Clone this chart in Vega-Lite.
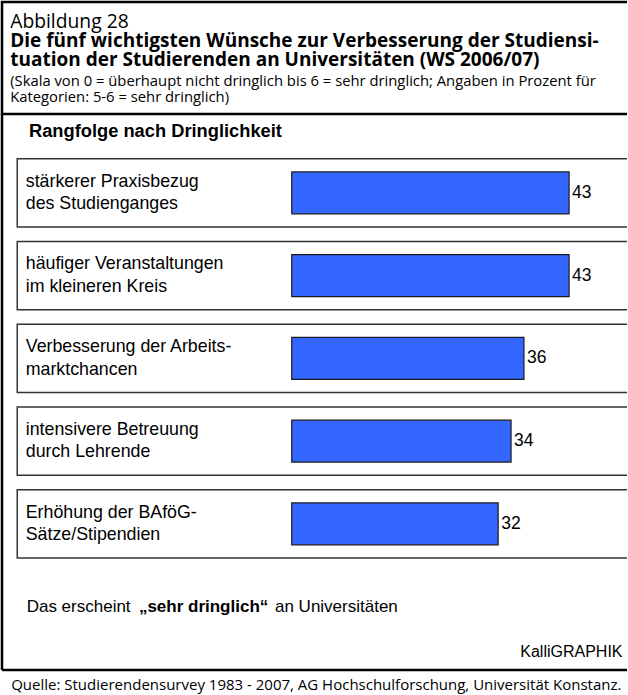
{
  "$schema": "https://vega.github.io/schema/vega-lite/v6.json",
  "background": "white",
  "padding": 0,
  "spacing": 0,
  "bounds": "flush",
  "config": {"view": {"stroke": null}, "axis": {"grid": false}},
  "datasets": {
    "header": [
      {"line": 1, "text": "Abbildung 28"},
      {"line": 2, "text": "Die fünf wichtigsten Wünsche zur Verbesserung der Studiensi-"},
      {"line": 3, "text": "tuation der Studierenden an Universitäten (WS 2006/07)"},
      {"line": 4, "text": "(Skala von 0 = überhaupt nicht dringlich bis 6 = sehr  dringlich; Angaben in Prozent für"},
      {"line": 5, "text": "Kategorien: 5-6 = sehr dringlich)"}
    ],
    "items": [
      {"item": "stärkerer Praxisbezug\ndes Studienganges", "value": 43},
      {"item": "häufiger Veranstaltungen\nim kleineren Kreis", "value": 43},
      {"item": "Verbesserung der Arbeits-\nmarktchancen", "value": 36},
      {"item": "intensivere Betreuung\ndurch Lehrende", "value": 34},
      {"item": "Erhöhung der BAföG-\nSätze/Stipendien", "value": 32}
    ],
    "caption": [
      {"item": "caption", "part": 1, "text": "Das erscheint"},
      {"item": "caption", "part": 2, "text": "„sehr dringlich“"},
      {"item": "caption", "part": 3, "text": "an Universitäten"}
    ],
    "source": [
      {"text": "Quelle: Studierendensurvey 1983 - 2007, AG Hochschulforschung, Universität Konstanz."}
    ]
  },
  "vconcat": [
    {
      "width": 625,
      "height": 112,
      "view": {"stroke": "black", "strokeWidth": 2.5, "strokeDash": [625, 112, 737]},
      "data": {"name": "header"},
      "encoding": {
        "x": {"datum": -43.65, "type": "quantitative", "scale": {"domain": [-44.922, 51.977], "nice": false, "zero": false}, "axis": null},
        "y": {"field": "line", "type": "quantitative", "scale": {"domain": [-0.4054, 5.6486], "reverse": true, "nice": false, "zero": false}, "axis": null},
        "text": {"field": "text"}
      },
      "layer": [
        {"transform": [{"filter": "datum.line == 1"}], "mark": {"type": "text", "align": "left", "baseline": "alphabetic", "font": "Open Sans", "fontSize": 19.3, "color": "black"}},
        {"transform": [{"filter": "datum.line == 2 || datum.line == 3"}], "mark": {"type": "text", "align": "left", "baseline": "alphabetic", "dy": 0.5, "font": "Open Sans", "fontSize": 19, "fontWeight": "bold", "color": "black"}},
        {"transform": [{"filter": "datum.line == 4"}], "mark": {"type": "text", "align": "left", "baseline": "alphabetic", "dy": 2.5, "font": "Open Sans", "fontSize": 14.8, "color": "black"}},
        {"transform": [{"filter": "datum.line == 5"}], "mark": {"type": "text", "align": "left", "baseline": "alphabetic", "font": "Open Sans", "fontSize": 14.8, "color": "black"}}
      ]
    },
    {
      "width": 625,
      "height": 556,
      "title": {"text": "Rangfolge nach Dringlichkeit", "anchor": "start", "orient": "top", "offset": -28.5, "dx": 27, "font": "Liberation Sans", "fontSize": 18.3, "fontWeight": "bold", "color": "black", "frame": "group"},
      "layer": [
        {
          "data": {"name": "items"},
          "mark": {"type": "rect", "fill": "#333333", "clip": true},
          "encoding": {
            "x": {"datum": -42.674, "type": "quantitative", "title": "KalliGRAPHIK", "scale": {"domain": [-44.922, 51.977], "nice": false, "zero": false},
                  "axis": {"orient": "bottom", "offset": -14, "labels": false, "ticks": false, "domain": false, "grid": false, "titleAnchor": "end", "titleAlign": "right", "titleBaseline": "alphabetic", "titleX": 620, "titleY": 0, "titleFont": "Liberation Sans", "titleFontSize": 16, "titleFontWeight": "normal", "titleColor": "black", "titlePadding": 0}},
            "x2": {"datum": 60},
            "y": {"field": "item", "type": "nominal", "sort": null, "axis": null,
                  "scale": {"domain": ["stärkerer Praxisbezug\ndes Studienganges", "häufiger Veranstaltungen\nim kleineren Kreis", "Verbesserung der Arbeits-\nmarktchancen", "intensivere Betreuung\ndurch Lehrende", "Erhöhung der BAföG-\nSätze/Stipendien", "caption"], "paddingInner": 0.157, "paddingOuter": 0.438, "align": 0.607, "round": false}}
          }
        },
        {
          "data": {"name": "items"},
          "mark": {"type": "bar", "fill": "white", "height": {"band": 0.957}, "clip": true},
          "encoding": {
            "x": {"datum": -42.441, "type": "quantitative", "title": "KalliGRAPHIK"},
            "x2": {"datum": 60},
            "y": {"field": "item", "type": "nominal", "sort": null, "axis": null}
          }
        },
        {
          "data": {"name": "items"},
          "mark": {"type": "bar", "fill": "#3366ff", "stroke": "#1a1a1a", "strokeWidth": 1.2, "height": {"band": 0.6}},
          "encoding": {
            "x": {"field": "value", "type": "quantitative", "title": "KalliGRAPHIK"},
            "y": {"field": "item", "type": "nominal", "sort": null, "axis": null}
          }
        },
        {
          "data": {"name": "items"},
          "mark": {"type": "text", "align": "left", "baseline": "middle", "lineBreak": "\n", "lineHeight": 22.5, "dy": -11.25, "font": "Liberation Sans", "fontSize": 17.8, "color": "black"},
          "encoding": {
            "x": {"datum": -41.24, "type": "quantitative", "title": "KalliGRAPHIK"},
            "y": {"field": "item", "type": "nominal", "sort": null, "axis": null},
            "text": {"field": "item"}
          }
        },
        {
          "data": {"name": "items"},
          "mark": {"type": "text", "align": "left", "baseline": "middle", "dx": 3, "font": "Liberation Sans", "fontSize": 17.5, "color": "black"},
          "encoding": {
            "x": {"field": "value", "type": "quantitative", "title": "KalliGRAPHIK"},
            "y": {"field": "item", "type": "nominal", "sort": null, "axis": null},
            "text": {"field": "value"}
          }
        },
        {
          "data": {"name": "caption"},
          "transform": [{"filter": "datum.part == 1"}],
          "mark": {"type": "text", "align": "left", "baseline": "middle", "font": "Liberation Sans", "fontSize": 17, "color": "black"},
          "encoding": {
            "x": {"datum": -41.1, "type": "quantitative", "title": "KalliGRAPHIK"},
            "y": {"field": "item", "type": "nominal", "sort": null, "axis": null},
            "text": {"field": "text"}
          }
        },
        {
          "data": {"name": "caption"},
          "transform": [{"filter": "datum.part == 2"}],
          "mark": {"type": "text", "align": "left", "baseline": "middle", "font": "Liberation Sans", "fontSize": 17, "fontWeight": "bold", "color": "black"},
          "encoding": {
            "x": {"datum": -23.7, "type": "quantitative", "title": "KalliGRAPHIK"},
            "y": {"field": "item", "type": "nominal", "sort": null, "axis": null},
            "text": {"field": "text"}
          }
        },
        {
          "data": {"name": "caption"},
          "transform": [{"filter": "datum.part == 3"}],
          "mark": {"type": "text", "align": "left", "baseline": "middle", "font": "Liberation Sans", "fontSize": 17, "color": "black"},
          "encoding": {
            "x": {"datum": -2.6, "type": "quantitative", "title": "KalliGRAPHIK"},
            "y": {"field": "item", "type": "nominal", "sort": null, "axis": null},
            "text": {"field": "text"}
          }
        },
        {
          "data": {"values": [{}]},
          "mark": {"type": "rule", "strokeWidth": 2.5, "color": "black"},
          "encoding": {
            "x": {"datum": -44.922, "type": "quantitative", "title": "KalliGRAPHIK"}
          }
        }
      ]
    },
    {
      "width": 625,
      "height": 25,
      "view": {"stroke": "black", "strokeWidth": 2.5, "strokeDash": [625, 675]},
      "data": {"name": "source"},
      "mark": {"type": "text", "align": "left", "baseline": "middle", "dy": 2, "font": "Open Sans", "fontSize": 15, "color": "black"},
      "encoding": {
        "x": {"datum": -43.5, "type": "quantitative", "scale": {"domain": [-44.922, 51.977], "nice": false, "zero": false}, "axis": null},
        "text": {"field": "text"}
      }
    }
  ]
}
